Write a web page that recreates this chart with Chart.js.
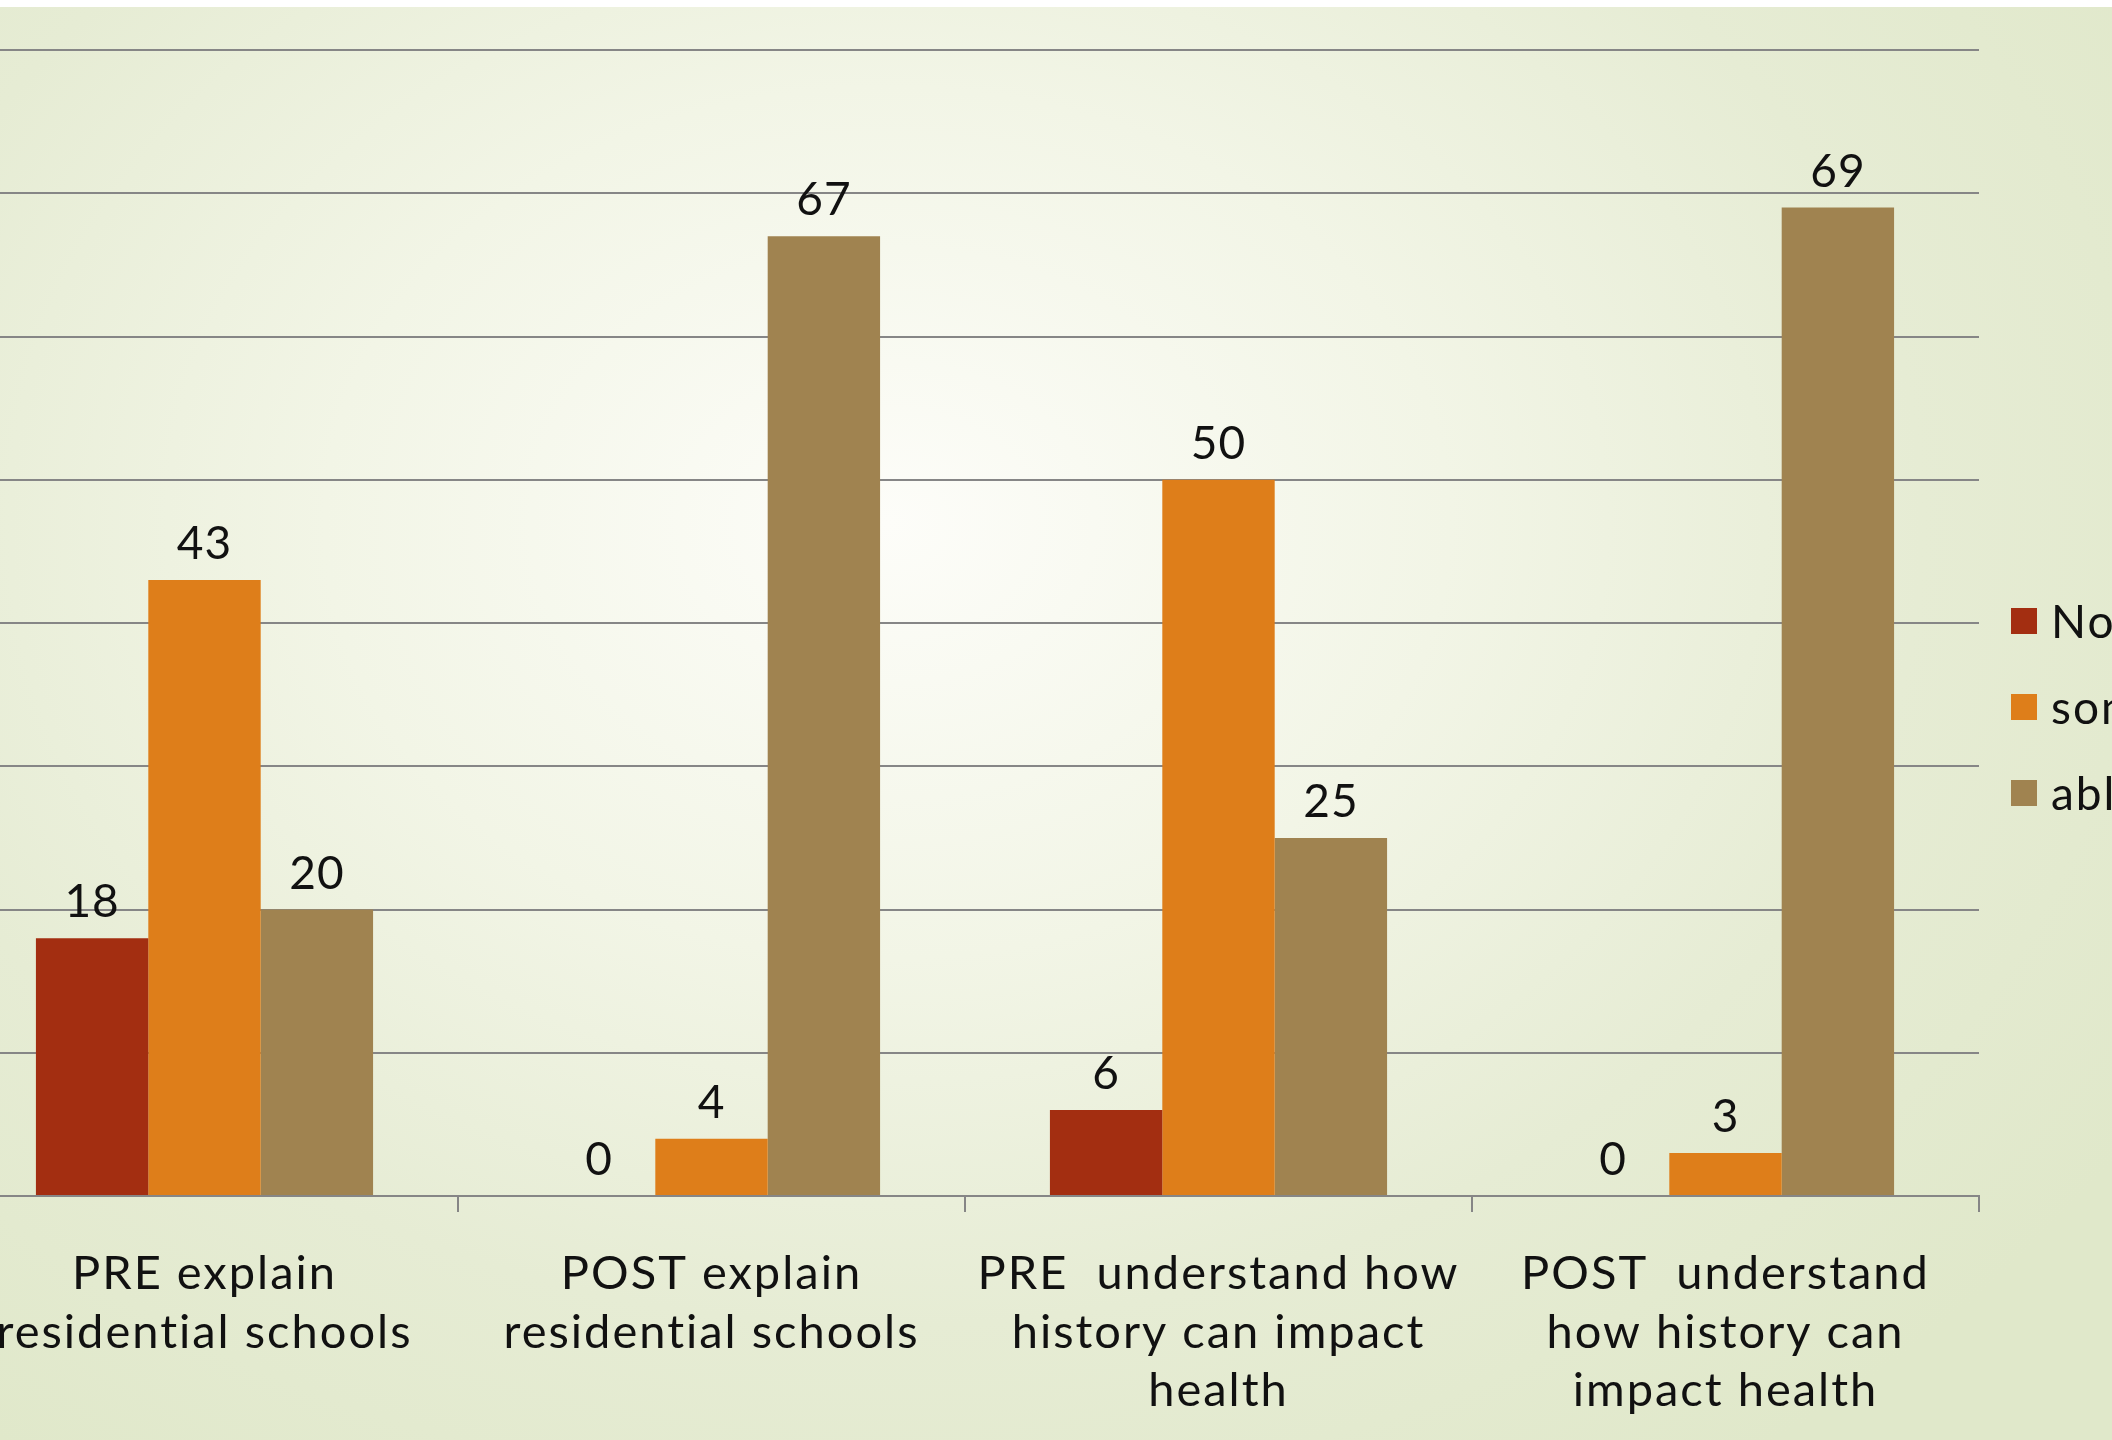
<!DOCTYPE html>
<html><head><meta charset="utf-8">
<script src="https://cdn.jsdelivr.net/npm/chart.js@4/dist/chart.umd.min.js"></script>
<style>
html,body{margin:0;padding:0;width:2112px;height:1440px;overflow:hidden;background:#fff;}
#bg{position:absolute;left:0;top:7px;width:2112px;height:1433px;background:radial-gradient(ellipse 70% 80% at 42% 36%, #fdfdf9 0%, #f2f5e6 38%, #e6ecd4 70%, #e0e8ca 100%);}
#wrap{position:absolute;left:-49px;top:0;width:2240px;height:1440px;}
</style></head>
<body>
<div id="bg"></div>
<div id="wrap"><canvas id="c" width="2240" height="1440"></canvas></div>
<script>
const categories = [
  ["PRE explain","residential schools"],
  ["POST explain","residential schools"],
  ["PRE  understand how","history can impact","health"],
  ["POST  understand","how history can","impact health"]
];
const seriesNames = ["No knowledge","some knowledge","able to explain"];
const noValues = [18, 0, 6, 0];
const someValues = [43, 4, 50, 3];
const ableValues = [20, 67, 25, 69];
const yTicks = [0,10,20,30,40,50,60,70,80];
const colors = ["#A32E11","#DE7E1A","#A08350"];

const FONT = "Lato, 'DejaVu Sans', sans-serif";

const spacing = {
  id:'spacing',
  beforeDraw(chart){ chart.ctx.letterSpacing = '2px'; }
};
const dataLabels = {
  id:'dataLabels',
  afterDatasetsDraw(chart){
    const ctx = chart.ctx;
    ctx.save();
    ctx.letterSpacing = '1px';
    ctx.fillStyle = '#111';
    ctx.font = '46px ' + FONT;
    ctx.textAlign = 'center';
    ctx.textBaseline = 'alphabetic';
    chart.data.datasets.forEach((ds,di)=>{
      chart.getDatasetMeta(di).data.forEach((el,i)=>{
        ctx.fillText(String(ds.data[i]), el.x, el.y - 21);
      });
    });
    ctx.restore();
  }
};
const sideLegend = {
  id:'sideLegend',
  afterDraw(chart){
    const ctx = chart.ctx;
    const a = chart.chartArea;
    ctx.save();
    ctx.letterSpacing = '2px';
    ctx.font = '46px ' + FONT;
    ctx.textBaseline = 'middle';
    ctx.textAlign = 'left';
    chart.data.datasets.forEach((ds,i)=>{
      const cy = 621 + i*86;
      const x = a.right + 32;
      ctx.fillStyle = ds.backgroundColor;
      ctx.fillRect(x, cy-13, 26, 26);
      ctx.fillStyle = '#111';
      ctx.fillText(ds.label, x + 40, cy + 2);
    });
    ctx.restore();
  }
};

new Chart(document.getElementById('c'), {
  type:'bar',
  data:{
    labels: categories,
    datasets:[
      {label: seriesNames[0], data: noValues, backgroundColor: colors[0]},
      {label: seriesNames[1], data: someValues, backgroundColor: colors[1]},
      {label: seriesNames[2], data: ableValues, backgroundColor: colors[2]}
    ]
  },
  options:{
    responsive:false,
    animation:false,
    layout:{padding:{top:50,right:212,bottom:0,left:0}},
    datasets:{bar:{barPercentage:1, categoryPercentage:0.665}},
    plugins:{legend:{display:false}, tooltip:{enabled:false}},
    scales:{
      x:{
        grid:{display:true, drawOnChartArea:false, tickLength:16, color:'#868686', lineWidth:2, offset:true},
        border:{display:true, color:'#868686', width:2},
        ticks:{color:'#111', font:{family:FONT, size:47, lineHeight:1.24}, maxRotation:0, autoSkip:false, padding:33},
        afterFit(s){ s.height = 244; }
      },
      y:{
        min:0, max:80,
        afterBuildTicks(s){ s.ticks = yTicks.map(v=>({value:v})); },
        grid:{color:'#868686', lineWidth:2, drawTicks:false},
        border:{display:false},
        ticks:{display:false},
        afterFit(s){ s.width = 0; }
      }
    }
  },
  plugins:[spacing, dataLabels, sideLegend]
});
</script>
</body></html>
